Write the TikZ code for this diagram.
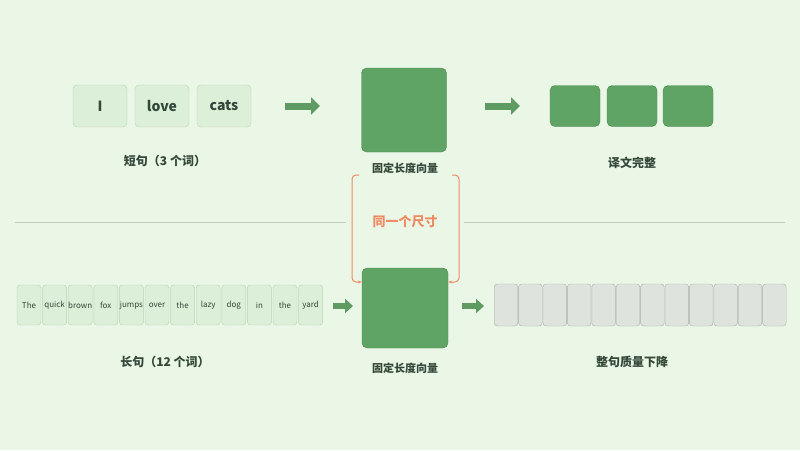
\documentclass[tikz,border=0pt]{standalone}
\usepackage{fontspec}
\setmainfont{Noto Sans CJK SC}
\usetikzlibrary{positioning,arrows.meta}
\definecolor{bgcol}{HTML}{EAF6E6}
\definecolor{wordfill}{HTML}{DCEFD8}
\definecolor{worddraw}{HTML}{B9D3B4}
\definecolor{vecfill}{HTML}{5FA465}
\definecolor{vecdraw}{HTML}{4B8A52}
\definecolor{arrowcol}{HTML}{5E9B62}
\definecolor{txtcol}{HTML}{34483A}
\definecolor{greyfill}{HTML}{DEE3DD}
\definecolor{greydraw}{HTML}{A9B1A8}
\definecolor{orangecol}{HTML}{F08A62}
\definecolor{linecol}{HTML}{C4CCC2}
\tikzset{
  word/.style={draw=worddraw,fill=wordfill,rounded corners=4pt,minimum height=42pt,
    text=txtcol,font=\fontsize{14}{14}\selectfont\bfseries},
  smallword/.style={draw=worddraw,fill=wordfill,rounded corners=3pt,minimum width=24pt,
    minimum height=40pt,inner sep=0pt,text=txtcol,font=\fontsize{8}{8}\selectfont},
  vec/.style={draw=vecdraw,fill=vecfill,rounded corners=5pt},
  greybox/.style={draw=greydraw,fill=greyfill,rounded corners=3pt,minimum width=23.6pt,
    minimum height=42pt,inner sep=0pt},
  caption/.style={text=txtcol,font=\fontsize{12}{12}\selectfont\bfseries},
  fat/.style={arrowcol,line width=7pt,-{Triangle[length=9pt,width=17pt]}},
}
\begin{document}
\begin{tikzpicture}[x=1pt,y=-1pt]
  \fill[bgcol] (0,0) rectangle (800,450);
  \useasboundingbox (0,0) rectangle (800,450);

  % short sentence
  \node[word,minimum width=54pt] (w1) at (100,106) {I};
  \node[word,minimum width=54pt] (w2) at (162,106) {love};
  \node[word,minimum width=54pt] (w3) at (224,106) {cats};
  \node[caption] (cap1) at (165,161) {短句（3 个词）};

  \node[vec,minimum width=85pt,minimum height=84pt] (v1) at (404,110) {};
  \node[caption,font=\fontsize{11}{11}\selectfont\bfseries] (cap2) at (405,168) {固定长度向量};
  \coordinate (a1s) at (285,106); \coordinate (a1e) at (320,106);
  \draw[fat] (a1s) -- (a1e);
  \coordinate (a2s) at (485,106); \coordinate (a2e) at (520,106);
  \draw[fat] (a2s) -- (a2e);

  \foreach \x [count=\i] in {575,632,688} {
    \node[vec,minimum width=50pt,minimum height=41pt] (t\i) at (\x,106) {};
  }
  \node[caption] (cap3) at (632,163) {译文完整};

  % divider
  \node[text=orangecol,font=\fontsize{13}{13}\selectfont\bfseries] (same) at (405,222) {同一个尺寸};
  \coordinate (d1) at (15,222); \coordinate (d2) at (785,222);
  \draw[linecol,line width=0.8pt] (d1) -- (346,222);
  \draw[linecol,line width=0.8pt] (464,222) -- (d2);

  % long sentence
  \foreach \w [count=\i] in {The,quick,brown,fox,jumps,over,the,lazy,dog,in,the,yard} {
    \node[smallword] (s\i) at ({29+25.6*(\i-1)},305) {\w};
  }
  \node[caption] (cap4) at (165,362) {长句（12 个词）};

  \node[vec,minimum width=86pt,minimum height=80pt] (v2) at (405,308) {};
  \node[caption,font=\fontsize{11}{11}\selectfont\bfseries] (cap5) at (405,368) {固定长度向量};
  \coordinate (a3s) at (333,306); \coordinate (a3e) at (353,306);
  \draw[fat,line width=6pt,-{Triangle[length=8pt,width=14pt]}] (a3s) -- (a3e);
  \coordinate (a4s) at (462,306); \coordinate (a4e) at (484,306);
  \draw[fat,line width=6pt,-{Triangle[length=8pt,width=14pt]}] (a4s) -- (a4e);

  \foreach \i in {1,...,12} {
    \node[greybox] (g\i) at ({506+24.4*(\i-1)},305) {};
  }
  \node[caption] (cap6) at (632,362) {整句质量下降};

  % same-size bracket
  \draw[orangecol,line width=1pt,rounded corners=4pt,-{Stealth[length=4pt]}]
    (359,175) -- (352,175) -- (352,282) -- (v2.west|-0,282);
  \draw[orangecol,line width=1pt,rounded corners=4pt,-{Stealth[length=4pt]}]
    (452,175) -- (459,175) -- (459,282) -- (v2.east|-0,282);
\end{tikzpicture}
\end{document}
